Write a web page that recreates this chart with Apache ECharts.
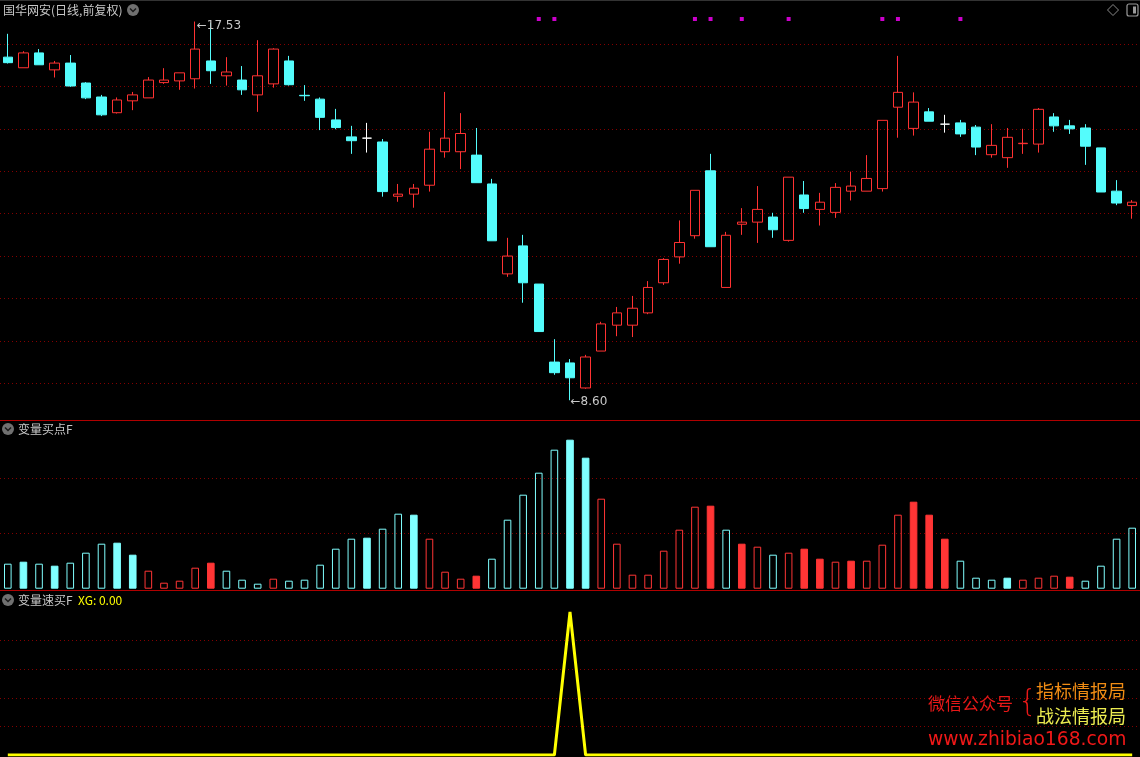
<!DOCTYPE html>
<html><head><meta charset="utf-8">
<script src="https://cdn.jsdelivr.net/npm/echarts@6/dist/echarts.min.js"></script>
<style>html,body{margin:0;padding:0;background:#000;}#c{width:1140px;height:757px;}</style>
</head><body><div id="c"></div><script>
// ---- price data (daily, forward-adjusted) ----
const opens  = [16.69,16.44,16.79,16.39,16.55,16.08,15.75,15.38,15.66,15.73,16.09,16.13,16.18,16.60,16.25,16.15,15.80,16.06,16.60,15.79,15.70,15.21,14.81,14.78,14.69,13.41,13.46,13.67,14.46,14.46,14.38,13.70,11.58,12.24,11.34,9.50,9.48,8.89,9.76,10.37,10.37,10.66,11.37,11.98,12.48,14.01,11.26,12.75,12.80,12.92,12.37,13.44,13.10,13.03,13.53,13.53,13.59,15.51,15.01,15.40,15.11,15.14,15.04,14.39,14.32,14.65,14.64,15.28,15.07,15.02,14.55,13.53,13.19];
const closes = [16.56,16.79,16.51,16.55,16.01,15.73,15.33,15.68,15.80,16.15,16.15,16.32,16.88,16.37,16.34,15.92,16.25,16.88,16.04,15.78,15.27,15.03,14.72,14.78,13.52,13.46,13.60,14.52,14.78,14.89,13.73,12.36,12.00,11.37,10.22,9.25,9.13,9.62,10.40,10.66,10.77,11.26,11.92,12.32,13.55,12.22,12.49,12.80,13.10,12.62,13.86,13.12,13.27,13.62,13.65,13.83,15.20,15.86,15.63,15.18,15.11,14.88,14.57,14.61,14.80,14.66,15.46,15.07,15.00,14.59,13.51,13.25,13.27];
const lows   = [16.54,16.44,16.51,16.21,15.99,15.70,15.30,15.36,15.44,15.73,16.06,15.92,15.95,16.06,16.02,15.80,15.40,15.97,16.02,15.66,14.97,14.99,14.41,14.44,13.40,13.28,13.14,13.52,14.32,14.05,13.73,12.36,11.51,10.90,10.22,9.20,8.60,8.87,9.76,10.11,10.09,10.63,11.32,11.82,12.41,12.22,11.26,12.50,12.31,12.43,12.34,13.02,12.72,12.90,13.31,13.53,13.52,14.79,14.84,15.18,14.91,14.81,14.38,14.32,14.08,14.41,14.44,14.93,14.88,14.15,13.51,13.20,12.88];
const highs  = [17.24,16.83,16.88,16.60,16.74,16.10,15.80,15.74,15.87,16.22,16.43,16.32,17.53,17.50,16.69,16.48,17.09,16.90,16.72,16.03,15.74,15.47,15.07,15.14,14.76,13.70,13.70,14.93,15.87,15.37,15.02,13.82,12.43,12.50,11.34,10.04,9.57,9.67,10.45,10.80,11.06,11.41,11.95,12.84,13.55,14.41,12.57,13.13,13.65,13.02,13.86,13.77,13.49,13.72,13.99,14.38,15.20,16.72,15.86,15.49,15.33,15.21,15.09,15.11,15.02,15.00,15.49,15.37,15.21,15.11,14.55,13.79,13.32];
// signal markers (bar indices) on the price panel
const signalIdx = [34,35,44,45,47,50,56,57,61];
// ---- 变量买点F indicator ----
const buyValues = [25,27,25,23,26,36,45,46,34,18, 6,8,21,26,18,9,5,10,8,9, 24,40,50,51,60,75,74,50,17,10, 13,30,69,94,116,139,149,131,90,45, 14,14,38,59,82,83,59,45,42,34, 36,40,30,27,28,28,44,74,87,74, 50,28,11,9,11,9,11,13,12,8, 23,50,61];
// 0 = cyan hollow, 1 = cyan solid, 2 = red hollow, 3 = red solid
const buyState  = [0,1,0,1,0,0,0,1,1,2, 2,2,2,3,0,0,0,2,0,0, 0,0,0,1,0,0,1,2,2,2, 3,0,0,0,0,0,1,1,2,2, 2,2,2,2,2,3,0,3,2,0, 2,3,3,2,3,2,2,2,3,3, 3,0,0,0,1,2,2,2,3,0, 0,0,0];
// ---- 变量速买F : XG ----
const xgValues = [0,0,0,0,0,0,0,0,0,0, 0,0,0,0,0,0,0,0,0,0, 0,0,0,0,0,0,0,0,0,0, 0,0,0,0,0,0,1,0,0,0, 0,0,0,0,0,0,0,0,0,0, 0,0,0,0,0,0,0,0,0,0, 0,0,0,0,0,0,0,0,0,0, 0,0,0];
const categories = opens.map((_, i) => String(i + 1));
const highLabel = '17.53', lowLabel = '8.60';

const UP = '#ff3232', DN = '#54fcfc', BAR_C = '#80ffff', BAR_R = '#ff3535';
const dotted = {color: '#840000', type: [1, 3], width: 1};
const chart = echarts.init(document.getElementById('c'));
const gl = -1.3, gr = -0.3;
function xa(gi){return {type:'category', gridIndex:gi, data:categories, boundaryGap:true, show:false};}
function splitY(gi, min, max, interval){
  return {type:'value', gridIndex:gi, min, max, interval, axisLine:{show:false}, axisTick:{show:false}, axisLabel:{show:false},
    splitLine:{show:true, showMinLine:false, showMaxLine:false, lineStyle:dotted}};
}
const candleData = opens.map((o, i) => [o, closes[i], lows[i], highs[i]]);
const hiIdx = highs.indexOf(Math.max(...highs)), loIdx = lows.indexOf(Math.min(...lows));
const barData = buyValues.map((v, i) => {
  const s = buyState[i];
  const c = s < 2 ? BAR_C : BAR_R;
  const solid = s === 1 || s === 3;
  return {value: v, itemStyle: {color: solid ? c : 'transparent', borderColor: c, borderWidth: 1}};
});
const txt = (x, y, t, fill, size, extra) => Object.assign({type:'text', x, y, style:{text:t, fill, font: size + 'px "Noto Sans CJK SC", sans-serif', textVerticalAlign:'middle'}}, extra || {});
function icon(cx, cy){
  return [{type:'circle', shape:{cx, cy, r:6}, style:{fill:'#707070'}},
          {type:'polyline', shape:{points:[[cx-3,cy-1.5],[cx,cy+1.5],[cx+3,cy-1.5]]}, style:{stroke:'#1a1a1a', lineWidth:1.5, fill:null}}];
}
chart.setOption({
  backgroundColor: '#000',
  animation: false,
  grid: [
    {left: gl, right: gr, top: 1.59, bottom: 331.3},
    {left: gl, right: gr, top: 423.7, bottom: 168.3},
    {left: gl, right: gr, top: 612, bottom: 2}
  ],
  xAxis: [xa(0), xa(1), xa(2)],
  yAxis: [
    splitY(0, 8, 18, 1),
    splitY(1, 0, 165, 55),
    splitY(2, 0, 1, 0.2),
    {type:'value', gridIndex:0, min:0, max:1, show:false, splitLine:{show:false}}
  ],
  series: [
    {type:'candlestick', xAxisIndex:0, yAxisIndex:0, data:candleData, barWidth:10, silent:true,
     itemStyle:{color:'transparent', color0:DN, borderColor:UP, borderColor0:DN, borderColorDoji:'#ffffff', borderWidth:1},
     markPoint:{symbol:'circle', symbolSize:1, silent:true, itemStyle:{color:'transparent'},
       data:[
        {coord:[hiIdx, highs[hiIdx]], label:{show:true, position:'right', distance:0, offset:[1,4], formatter:'←' + highLabel, color:'#c8c8c8', fontSize:12, fontFamily:'DejaVu Sans'}},
        {coord:[loIdx, lows[loIdx]], label:{show:true, position:'right', distance:0, offset:[0,2], formatter:'←' + lowLabel, color:'#c8c8c8', fontSize:12, fontFamily:'DejaVu Sans'}}
       ]}},
    {type:'scatter', xAxisIndex:0, yAxisIndex:3, symbol:'rect', symbolSize:4, silent:true,
     itemStyle:{color:'#ff00ff'}, data: signalIdx.map(i => [i, 0.959])},
    {type:'bar', xAxisIndex:1, yAxisIndex:1, data:barData, barWidth:7.6, silent:true},
    {type:'line', xAxisIndex:2, yAxisIndex:2, data:xgValues, symbol:'none', silent:true,
     lineStyle:{color:'#ffff00', width:3}}
  ],
  graphic: [
    {type:'line', shape:{x1:0, y1:0.5, x2:1140, y2:0.5}, style:{stroke:'#333', lineWidth:1}},
    {type:'line', shape:{x1:0, y1:420.5, x2:1140, y2:420.5}, style:{stroke:'#b00000', lineWidth:1}},
    {type:'line', shape:{x1:0, y1:590.5, x2:1140, y2:590.5}, style:{stroke:'#b00000', lineWidth:1}},
    txt(3, 10, '国华网安(日线,前复权)', '#c8c8c8', 12),
    ...icon(133, 10),
    txt(18, 429, '变量买点F', '#c8c8c8', 12),
    ...icon(8, 429),
    txt(18, 600, '变量速买F', '#c8c8c8', 12),
    txt(78, 600, 'XG: 0.00', '#ffff00', 12),
    ...icon(8, 600),
    {type:'polygon', shape:{points:[[1113,4.5],[1118.5,10],[1113,15.5],[1107.5,10]]}, style:{stroke:'#8a8a8a', fill:null, lineWidth:1}},
    {type:'rect', shape:{x:1127, y:4, width:11, height:12, r:2}, style:{stroke:'#9a9a9a', fill:null, lineWidth:1.2}},
    {type:'rect', shape:{x:1133, y:6.5, width:3, height:7}, style:{fill:'#9a9a9a'}},
    txt(928, 704, '微信公众号', '#e81818', 17),
    txt(1018, 703, '{', '#e81818', 30, {style:{text:'{', fill:'#e81818', font:'300 30px "DejaVu Sans", sans-serif', textVerticalAlign:'middle'}}),
    txt(1036, 691, '指标情报局', '#f08c14', 18),
    txt(1036, 716, '战法情报局', '#ecec50', 18),
    txt(928, 740, 'www.zhibiao168.com', '#f01818', 18, {style:{text:'www.zhibiao168.com', fill:'#f01818', font:'18.7px "DejaVu Sans", sans-serif', textVerticalAlign:'middle'}})
  ]
});
</script></body></html>
